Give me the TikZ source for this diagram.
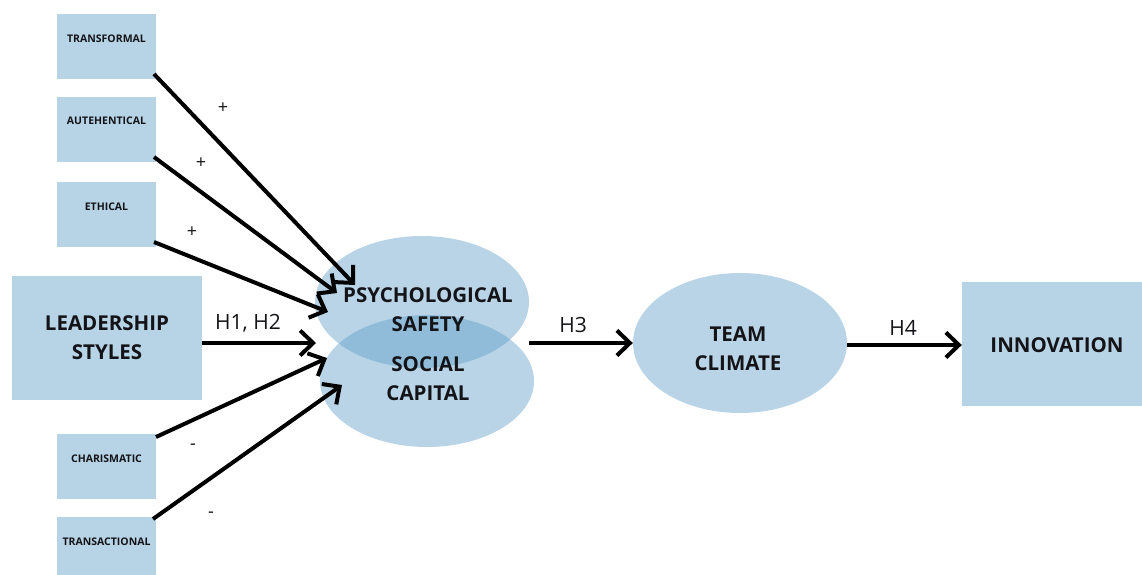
\documentclass[tikz,border=0pt]{standalone}
\usepackage{fontspec}
\setmainfont{Open Sans}
\usetikzlibrary{arrows.meta,shapes.geometric}
\definecolor{boxblue}{RGB}{183,212,230}
\definecolor{ellblue}{RGB}{93,158,199}
\definecolor{ink}{RGB}{20,20,24}
\tikzset{
  sbox/.style={fill=boxblue, draw=none, minimum width=99pt, minimum height=65pt, inner sep=0pt},
  bbox/.style={fill=boxblue, draw=none, minimum width=190pt, minimum height=124pt, inner sep=0pt},
  ell/.style={ellipse, fill=ellblue, fill opacity=0.44, draw=none, inner sep=0pt},
  stxt/.style={font=\bfseries\fontsize{10.5}{12}\selectfont, text=ink, inner sep=0pt},
  btxt/.style={font=\bfseries\fontsize{20.5}{29}\selectfont, text=ink, align=center, inner sep=0pt},
  htxt/.style={font=\fontsize{21}{24}\selectfont, text=ink, inner sep=0pt},
  sign/.style={font=\fontsize{18}{20}\selectfont, text=ink, inner sep=0pt},
  conn/.style={line width=4pt, draw=black, -{Straight Barb[length=13pt,width=25pt]}},
}
\begin{document}
\begin{tikzpicture}[x=1pt,y=-1pt]
\useasboundingbox (0,0) rectangle (1142,574);
% boxes
\node[sbox] (tr) at (106.5,46.5) {};
\node[sbox] (au) at (106.5,129) {};
\node[sbox] (et) at (106.5,214) {};
\node[bbox] (ls) at (107,338) {};
\node[sbox] (ch) at (106.5,466.5) {};
\node[sbox] (ta) at (106.5,549.5) {};
\node[bbox] (inn) at (1057,343.5) {};
% ellipses
\node[ell, minimum width=214pt, minimum height=132pt] (ps) at (422,302) {};
\node[ell, minimum width=214pt, minimum height=132pt] (sc) at (427,381) {};
\node[ell, minimum width=214pt, minimum height=140pt] (tc) at (740,343) {};
% box texts
\node[stxt] (trt) at (106.5,39) {TRANSFORMAL};
\node[stxt] (aut) at (106.5,121) {AUTEHENTICAL};
\node[stxt] (ett) at (106.5,207) {ETHICAL};
\node[stxt] (cht) at (106.5,459) {CHARISMATIC};
\node[stxt] (tat) at (106.5,542) {TRANSACTIONAL};
\node[btxt] (lst) at (107,338) {LEADERSHIP\\STYLES};
\node[btxt] (innt) at (1057,345) {INNOVATION};
% arrow end points
\coordinate (e1) at (355,285);
\coordinate (e2) at (337,293);
\coordinate (e3) at (328,312);
\coordinate (e4) at (316,343);
\coordinate (e5) at (327,358);
\coordinate (e6) at (342,385);
\coordinate (s1) at (154,74);
\coordinate (s2) at (154,157);
\coordinate (s3) at (154,242);
\coordinate (s5) at (156,437);
\coordinate (s6) at (153,519);
% connectors
\draw[conn] (s1) -- (e1);
\draw[conn] (s2) -- (e2);
\draw[conn] (s3) -- (e3);
\draw[conn] (ls.east |- e4) -- (e4);
\draw[conn] (s5) -- (e5);
\draw[conn] (s6) -- (e6);
\draw[conn] (ps.east |- 0,343) -- (tc.west);
\draw[conn] (tc.east |- 0,345) -- (inn.west |- 0,345);
% ellipse texts
\node[btxt] (pst) at (428,309.5) {PSYCHOLOGICAL\\SAFETY};
\node[btxt] (sct) at (428,379) {SOCIAL\\CAPITAL};
\node[btxt] (tct) at (738,349) {TEAM\\CLIMATE};
% labels
\node[htxt] (h12) at (248,323) {H1, H2};
\node[htxt] (h3) at (573,325) {H3};
\node[htxt] (h4) at (903,328) {H4};
\node[sign] (p1) at (223,108) {+};
\node[sign] (p2) at (201,163) {+};
\node[sign] (p3) at (192,232) {+};
\node[sign] (m1) at (193,447) {-};
\node[sign] (m2) at (211,515) {-};
\end{tikzpicture}
\end{document}
